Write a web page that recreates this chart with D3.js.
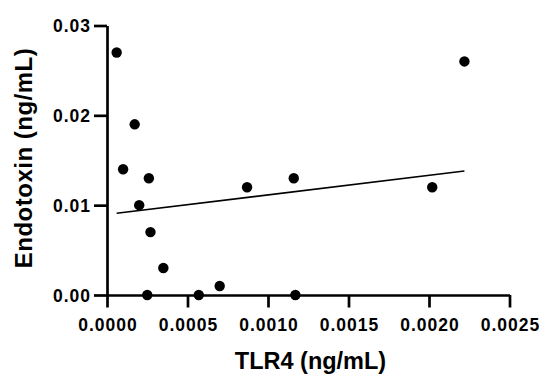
<!DOCTYPE html>
<html>
<head>
<meta charset="utf-8">
<script src="https://cdn.jsdelivr.net/npm/d3@7"></script>
<style>
  body { margin: 0; background: #fff; }
  svg text { font-family: "Liberation Sans", Arial, sans-serif; font-weight: bold; fill: #000; }
</style>
</head>
<body>
<svg width="550" height="381"></svg>
<script>
// Data
const tlr4 = [0.00006, 0.000172, 0.0001, 0.00026, 0.0002, 0.00027, 0.00035, 0.00025,
              0.00057, 0.0007, 0.00087, 0.00116, 0.00117, 0.00202, 0.00222];
const endotoxin = [0.027, 0.019, 0.014, 0.013, 0.010, 0.007, 0.003, 0.000,
                   0.000, 0.001, 0.012, 0.013, 0.000, 0.012, 0.026];
const xTicks = [0, 0.0005, 0.0010, 0.0015, 0.0020, 0.0025];
const yTicks = [0, 0.01, 0.02, 0.03];

const svg = d3.select("svg");

// Scales
const x = d3.scaleLinear().domain([0, 0.0025]).range([107, 509.5]);
const y = d3.scaleLinear().domain([0, 0.03]).range([295, 25.5]);

// Axes
const xAxis = svg.append("g")
    .attr("transform", "translate(0,295)")
    .call(d3.axisBottom(x).tickValues(xTicks).tickFormat(d3.format(".4f"))
        .tickSize(12.5).tickSizeOuter(0).tickPadding(11.5));
const yAxis = svg.append("g")
    .attr("transform", "translate(107,0)")
    .call(d3.axisLeft(y).tickValues(yTicks).tickFormat(d3.format(".2f"))
        .tickSize(13).tickSizeOuter(0).tickPadding(4));

[xAxis, yAxis].forEach(g => {
    g.select(".domain").attr("stroke", "#000").attr("stroke-width", 2.7);
    g.selectAll(".tick line").attr("stroke", "#000").attr("stroke-width", 2.7);
    g.selectAll(".tick text")
        .attr("font-size", 17.5)
        .style("letter-spacing", "1px");
});
xAxis.selectAll(".tick text").attr("dx", 0.5);
yAxis.selectAll(".tick text").attr("dx", 1).attr("dy", "0.36em");

// Linear regression
const data = tlr4.map((v, i) => ({ x: v, y: endotoxin[i] }));
const mx = d3.mean(data, d => d.x), my = d3.mean(data, d => d.y);
const slope = d3.sum(data, d => (d.x - mx) * (d.y - my)) / d3.sum(data, d => (d.x - mx) ** 2);
const intercept = my - slope * mx;
const ext = d3.extent(tlr4);

svg.append("line")
    .attr("x1", x(ext[0])).attr("y1", y(intercept + slope * ext[0]))
    .attr("x2", x(ext[1])).attr("y2", y(intercept + slope * ext[1]))
    .attr("stroke", "#000").attr("stroke-width", 1.6);

// Points
svg.append("g")
    .selectAll("circle")
    .data(data)
    .join("circle")
    .attr("cx", d => x(d.x))
    .attr("cy", d => y(d.y))
    .attr("r", 5.2)
    .attr("fill", "#000");

// Axis titles
svg.append("text")
    .attr("x", 310.5).attr("y", 369)
    .attr("text-anchor", "middle")
    .attr("font-size", 23.5)
    .text("TLR4 (ng/mL)");

svg.append("text")
    .attr("transform", "translate(31.5,158) rotate(-90)")
    .attr("text-anchor", "middle")
    .attr("font-size", 24)
    .style("letter-spacing", "0.5px")
    .text("Endotoxin (ng/mL)");
</script>
</body>
</html>
